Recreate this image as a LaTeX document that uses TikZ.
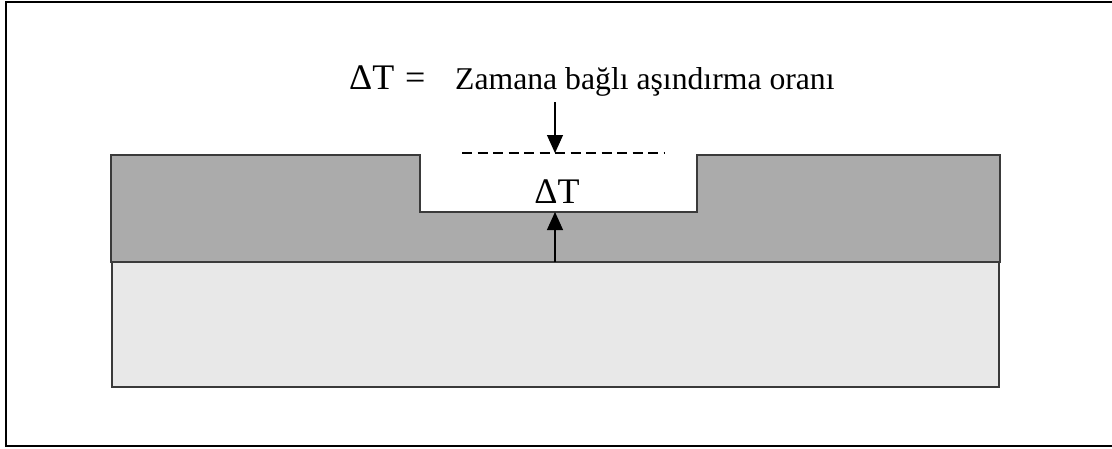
\documentclass[tikz,border=0pt]{standalone}
\usepackage{fontspec}
\setmainfont{Liberation Serif}
\usetikzlibrary{arrows.meta}
\definecolor{layergray}{HTML}{ABABAB}
\definecolor{subgray}{HTML}{E8E8E8}
\definecolor{edgegray}{HTML}{3A3A3A}
\begin{document}
\begin{tikzpicture}[x=1pt,y=-1pt,
  solid layer/.style={line width=1.8pt, draw=edgegray, line join=miter},
  arrowline/.style={line width=1.1pt, -{Triangle[length=18pt,width=16pt]}},
  lbl/.style={inner sep=0pt, anchor=base west, font=\fontsize{31.7}{36}\selectfont},
  biglbl/.style={inner sep=0pt, font=\fontsize{36}{40}\selectfont}]
\useasboundingbox (0,0) rectangle (1112,448);
% frame
\draw[line width=2pt] (1114,2) -- (6,2) -- (6,446) -- (1114,446);
% substrate
\draw[solid layer, fill=subgray] (112,262) rectangle (999,387);
% etched layer
\draw[solid layer, fill=layergray] (111,262) -- (111,155) -- (420,155) -- (420,212)
  -- (697,212) -- (697,155) -- (1000,155) -- (1000,262) -- cycle;
% labels
\node[biglbl, anchor=base west] (eq) at (349,89) {ΔT\hspace{0.3em}=};
\node[lbl] (txt) at (455,89) {Zamana bağlı aşındırma oranı};
\node[biglbl, anchor=base] (dt) at (557,203) {ΔT};
% dashed reference line
\coordinate (dl) at (462,153);
\coordinate (dr) at (664,153);
\draw[line width=1.2pt, dash pattern=on 10pt off 5.5pt] (dl) -- (dr);
% arrows
\coordinate (a1s) at (555,102);
\coordinate (a1e) at (555,153);
\coordinate (a2s) at (555,262);
\coordinate (a2e) at (555,212);
\draw[arrowline] (a1s) -- (a1e);
\draw[arrowline] (a2s) -- (a2e);
\end{tikzpicture}
\end{document}
